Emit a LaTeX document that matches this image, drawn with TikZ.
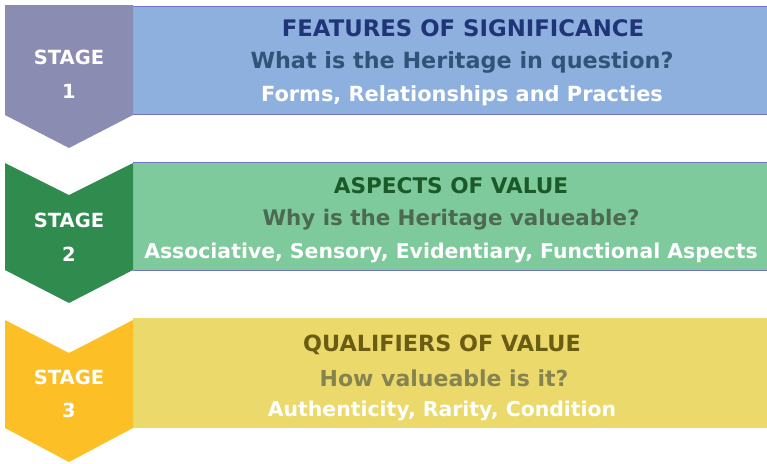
\documentclass[tikz,border=0pt]{standalone}
\usepackage{fontspec}
\setmainfont{DejaVu Sans}
\definecolor{chevA}{HTML}{8A8CB2}
\definecolor{boxA}{HTML}{8EB0DE}
\definecolor{edgeA}{HTML}{7272C8}
\definecolor{titA}{HTML}{1F3578}
\definecolor{subA}{HTML}{2E5478}
\definecolor{chevB}{HTML}{2F8C4E}
\definecolor{boxB}{HTML}{7FCA9C}
\definecolor{titB}{HTML}{1B5A28}
\definecolor{subB}{HTML}{4C6A52}
\definecolor{chevC}{HTML}{FCBF26}
\definecolor{boxC}{HTML}{ECD96B}
\definecolor{titC}{HTML}{6A5C12}
\definecolor{subC}{HTML}{85844E}
\tikzset{
  txt/.style={font=\bfseries\fontsize{#1}{#1}\selectfont, inner sep=0pt, anchor=center},
  stagetxt/.style={txt=19.5, text=white},
}
\begin{document}
\begin{tikzpicture}[x=1pt,y=-1pt]
\useasboundingbox (0,0) rectangle (767,463);
% boxes
\fill[boxA] (133,6) rectangle (767,114);
\draw[edgeA, line width=0.8pt] (133,6) -- (767,6) (133,114) -- (767,114);
\fill[boxB] (133,162) rectangle (767,270);
\draw[edgeA, line width=0.8pt] (133,162) -- (767,162) (133,270) -- (767,270);
\fill[boxC] (133,318) rectangle (767,428);
% chevrons
\fill[chevA] (5,5) -- (133,5) -- (133,115) -- (69,148) -- (5,115) -- cycle;
\fill[chevB] (5,163) -- (69,195) -- (133,163) -- (133,270) -- (69,303) -- (5,270) -- cycle;
\fill[chevC] (5,320) -- (69,353) -- (133,320) -- (133,428) -- (69,462) -- (5,428) -- cycle;
% stage labels
\node[stagetxt] (s1a) at (69,57) {STAGE};
\node[stagetxt] (s1b) at (69,91) {1};
\node[stagetxt] (s2a) at (69,220) {STAGE};
\node[stagetxt] (s2b) at (69,254) {2};
\node[stagetxt] (s3a) at (69,377) {STAGE};
\node[stagetxt] (s3b) at (69,410) {3};
% box texts
\node[txt=22.8, text=titA] (t1a) at (463,28) {FEATURES OF SIGNIFICANCE};
\node[txt=22.3, text=subA] (t1b) at (462,62) {What is the Heritage in question?};
\node[txt=20.9, text=white] (t1c) at (462,96) {Forms, Relationships and Practies};
\node[txt=21.6, text=titB] (t2a) at (451,186) {ASPECTS OF VALUE};
\node[txt=21.4, text=subB] (t2b) at (451,220) {Why is the Heritage valueable?};
\node[txt=20.4, text=white] (t2c) at (451,253) {Associative, Sensory, Evidentiary, Functional Aspects};
\node[txt=22.3, text=titC] (t3a) at (442,345) {QUALIFIERS OF VALUE};
\node[txt=22, text=subC] (t3b) at (444,378) {How valueable is it?};
\node[txt=20.4, text=white] (t3c) at (442,411) {Authenticity, Rarity, Condition};
\end{tikzpicture}
\end{document}
